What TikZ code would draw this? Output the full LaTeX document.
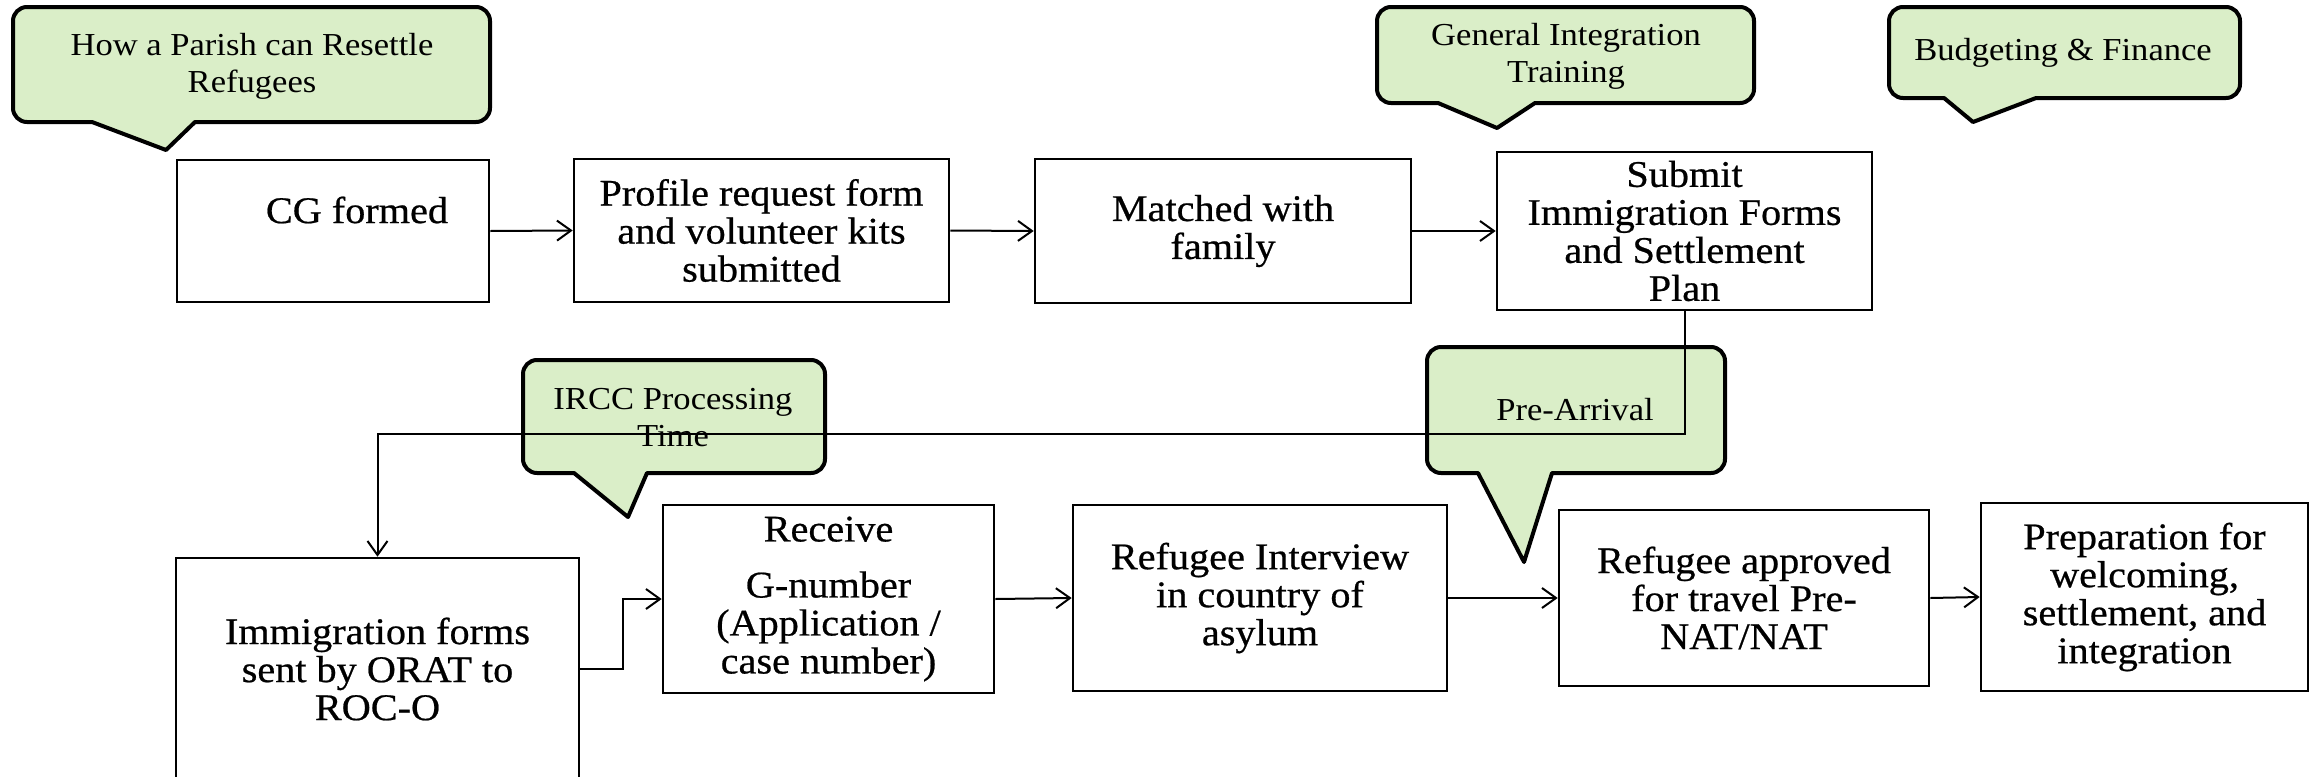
\documentclass[tikz,border=0pt]{standalone}
\usepackage{fontspec}
\setmainfont{Liberation Serif}[FakeStretch=1.08]
\newfontfamily\boxfont{Liberation Serif}[FakeStretch=1.07,FakeBold=0.6]
\usetikzlibrary{arrows.meta}
\definecolor{cfill}{RGB}{218,238,200}
\begin{document}
\begin{tikzpicture}[x=0.5pt,y=-0.5pt,
  box/.style={draw, line width=1.3pt, inner sep=0pt, align=center, font=\boxfont\fontsize{18.8}{19}\selectfont},
  btext/.style={inner sep=0pt, align=center, font=\boxfont\fontsize{18.8}{19}\selectfont},
  ctext/.style={inner sep=0pt, align=center, font=\fontsize{16}{18.5}\selectfont},
  callout/.style={draw, fill=cfill, line width=2pt, line join=round},
  arr/.style={line width=1pt, -{Straight Barb[length=7pt,width=10pt]}}]
\useasboundingbox (0,0) rectangle (2321,776);
\clip (0,0) rectangle (2321,776);

% boxes
\node[box, minimum width=156pt, minimum height=71pt] (cg) at (333,231) {};
\node[btext] (cgt) at (357,210) {CG formed};
\node[box, minimum width=187.5pt, minimum height=71.5pt] (prof) at (761.5,230.5) {Profile request form\\and volunteer kits\\submitted};
\node[box, minimum width=188pt, minimum height=72pt] (match) at (1223,231) {Matched with\\family};
\node[box, minimum width=187.5pt, minimum height=79pt] (sub) at (1684.5,231) {Submit\\Immigration Forms\\and Settlement\\Plan};
\node[box, minimum width=201.5pt, minimum height=111pt] (imm) at (377.5,669) {Immigration forms\\sent by ORAT to\\ROC-O};
\node[box, minimum width=165.5pt, minimum height=94pt] (recv) at (828.5,599) {Receive\\[9pt]G-number\\(Application /\\case number)};
\node[box, minimum width=187pt, minimum height=93pt] (intv) at (1260,598) {Refugee Interview\\in country of\\asylum};
\node[box, minimum width=185pt, minimum height=88pt] (appr) at (1744,598) {Refugee approved\\for travel Pre-\\NAT/NAT};
\node[box, minimum width=163.5pt, minimum height=94pt] (prep) at (2144.5,597) {Preparation for\\welcoming,\\settlement, and\\integration};

% callouts
\draw[callout] (251,7) [rounded corners=7pt] -- (490,7) -- (490,122) [sharp corners] -- (195,122) -- (166,150) -- (92,122) [rounded corners=7pt] -- (13,122) -- (13,7) -- cycle;
\node[ctext] (c1) at (252,66) {How a Parish can Resettle\\Refugees};

\draw[callout] (1565,7) [rounded corners=7pt] -- (1754,7) -- (1754,103) [sharp corners] -- (1535,103) -- (1497,128) -- (1438,103) [rounded corners=7pt] -- (1377,103) -- (1377,7) -- cycle;
\node[ctext] (c2) at (1566,56) {General Integration\\Training};

\draw[callout] (2064,7) [rounded corners=7pt] -- (2240,7) -- (2240,98) [sharp corners] -- (2036,98) -- (1973,122) -- (1944,98) [rounded corners=7pt] -- (1889,98) -- (1889,7) -- cycle;
\node[ctext] (c3) at (2063,53) {Budgeting \& Finance};

\draw[callout] (674,360) [rounded corners=7pt] -- (825,360) -- (825,473) [sharp corners] -- (647,473) -- (628,517) -- (574,473) [rounded corners=7pt] -- (523,473) -- (523,360) -- cycle;
\node[ctext] (c4) at (673,418) {IRCC Processing\\Time};

\draw[callout] (1576,347) [rounded corners=7pt] -- (1725,347) -- (1725,473) [sharp corners] -- (1552,473) -- (1524,562) -- (1478,473) [rounded corners=7pt] -- (1427,473) -- (1427,347) -- cycle;
\node[ctext] (c5) at (1575,410) {Pre-Arrival};

% connectors
\draw[arr] (cg.east) -- (prof.west);
\draw[arr] (prof.east) -- (match.west);
\draw[arr] (match.east) -- (match.east -| sub.west);
\draw[arr] (sub.south) -- ++(0,123) -| (imm.north);
\draw[arr] (imm.east) -- ++(43,0) |- (recv.west);
\draw[arr] (recv.east) -- (intv.west);
\draw[arr] (intv.east) -- (appr.west);
\draw[arr] (appr.east) -- (prep.west);
\end{tikzpicture}
\end{document}
